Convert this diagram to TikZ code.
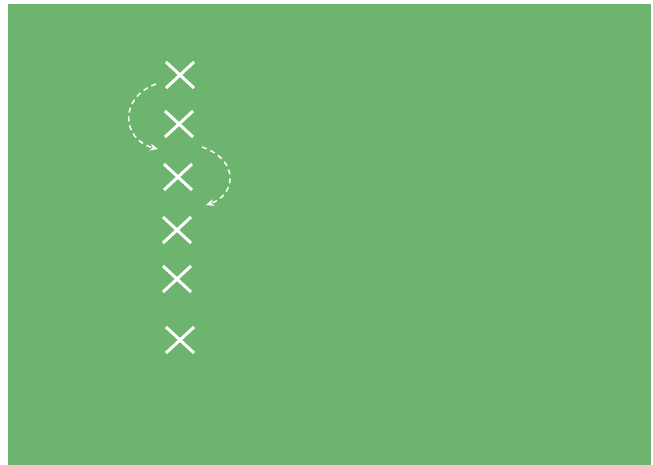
\documentclass[tikz,border=0pt]{standalone}
\usepackage{xcolor}
\usetikzlibrary{arrows.meta, shapes.misc}
\definecolor{pitch}{HTML}{6DB46F}

\begin{document}
\begin{tikzpicture}[x=1pt, y=-1pt,
        player/.style={cross out, draw=white, line width=3pt,
                       minimum width=25pt, minimum height=23pt, inner sep=0pt},
        run/.style={white, line width=1.5pt, dash pattern=on 5pt off 4pt,
                    -{Stealth[length=8pt, width=7pt]}}
      ]
        \useasboundingbox (0,0) rectangle (653,465);
        \fill[white] (0,0) rectangle (653,465);
        \fill[pitch] (8,4) rectangle (651,465);
        % players
        \node[player] (x1) at (180,75) {};
        \node[player] (x2) at (179,124) {};
        \node[player] (x3) at (178,177) {};
        \node[player] (x4) at (177,230) {};
        \node[player] (x5) at (177,279) {};
        \node[player] (x6) at (180,340) {};
        % runs
        \coordinate (s1) at (156,84);
        \coordinate (e1) at (158,149);
        \coordinate (s2) at (202,147);
        \coordinate (e2) at (206,205);
        \draw[run] (s1) .. controls (118,98) and (122,140) .. (e1);
        \draw[run] (s2) .. controls (240,160) and (236,195) .. (e2);
      \end{tikzpicture}
\end{document}
